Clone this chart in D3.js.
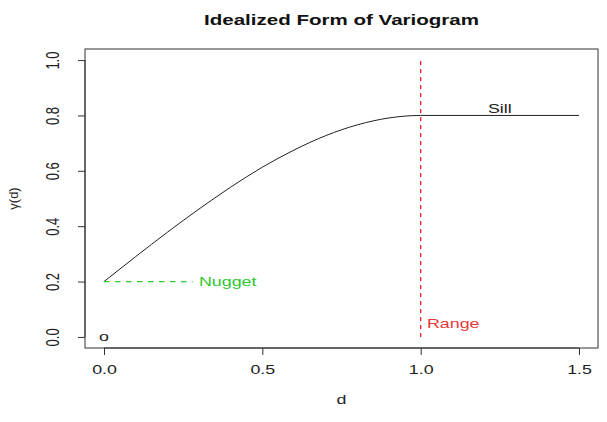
<!DOCTYPE html>
<html>
<head>
<meta charset="utf-8">
<script src="https://cdn.jsdelivr.net/npm/d3@7"></script>
<style>
  body { margin: 0; background: #fff; }
  svg { font-family: "Liberation Sans", Arial, sans-serif; }
</style>
</head>
<body>
<script>
// values
const distances = [0, 0.1, 0.2, 0.3, 0.4, 0.5, 0.6, 0.7, 0.8, 0.9, 1.0, 1.5];
const gammaValues = [0.2, 0.29, 0.378, 0.462, 0.541, 0.613, 0.675, 0.727, 0.766, 0.791, 0.8, 0.8];
const xTicks = [0, 0.5, 1.0, 1.5];
const yTicks = [0, 0.2, 0.4, 0.6, 0.8, 1.0];
const nugget = 0.2, sill = 0.8, range = 1.0;

const width = 607, height = 422;
const marginTop = 49, marginRight = 9, marginBottom = 74, marginLeft = 85;
const stretch = 1.37; // the reference text is wide

const x = d3.scaleLinear([-0.06, 1.56], [marginLeft, width - marginRight]);
const y = d3.scaleLinear([-0.04, 1.04], [height - marginBottom, marginTop]);

const svg = d3.select("body").append("svg")
    .attr("width", width)
    .attr("height", height);

// text placed at (px, py), widened horizontally
function label(px, py, str, anchor = "start") {
  return svg.append("text")
      .attr("transform", `translate(${px},${py}) scale(${stretch},1)`)
      .attr("text-anchor", anchor)
      .attr("font-size", 13)
      .text(str);
}

// plot box
svg.append("rect")
    .attr("x", marginLeft).attr("y", marginTop)
    .attr("width", width - marginLeft - marginRight)
    .attr("height", height - marginTop - marginBottom)
    .attr("fill", "none").attr("stroke", "#333");

const xAxis = d3.axisBottom(x).tickValues(xTicks).tickFormat(d3.format(".1f")).tickSize(7).tickPadding(10);
svg.append("g")
    .attr("transform", `translate(0,${height - marginBottom})`)
    .call(xAxis)
    .call(g => g.select(".domain").attr("d", `M${x(0)},0H${x(1.5)}`).attr("stroke", "#333"))
    .call(g => g.selectAll(".tick line").attr("stroke", "#333"))
    .call(g => g.selectAll("text")
        .attr("font-size", 13).attr("fill", "#222")
        .attr("font-family", "Liberation Sans, Arial, sans-serif")
        .attr("transform", `scale(${stretch},1)`));

const yAxis = d3.axisLeft(y).tickValues(yTicks).tickFormat(d3.format(".1f")).tickSize(7).tickPadding(0);
svg.append("g")
    .attr("transform", `translate(${marginLeft},0)`)
    .call(yAxis)
    .call(g => g.select(".domain").attr("d", `M0,${y(0)}V${y(1)}`).attr("stroke", "#333"))
    .call(g => g.selectAll(".tick line").attr("stroke", "#333"))
    .call(g => g.selectAll("text")
        .attr("font-size", 13).attr("fill", "#222")
        .attr("font-family", "Liberation Sans, Arial, sans-serif")
        .attr("text-anchor", "middle")
        .attr("transform", `translate(-32,0) scale(${stretch},1) rotate(-90)`)
        .attr("x", 0).attr("y", 0).attr("dy", "0.35em"));

// the variogram curve
const line = d3.line()
    .x((d, i) => x(distances[i]))
    .y(d => y(d))
    .curve(d3.curveMonotoneX);

svg.append("path")
    .datum(gammaValues)
    .attr("fill", "none")
    .attr("stroke", "#222")
    .attr("stroke-width", 1)
    .attr("d", line);

// nugget
svg.append("line")
    .attr("x1", x(0)).attr("x2", x(0.28))
    .attr("y1", y(nugget)).attr("y2", y(nugget))
    .attr("stroke", "#2ecc2e").attr("stroke-width", 1.3)
    .attr("stroke-dasharray", "5.5,5.5");
label(x(0.3), y(nugget), "Nugget")
    .attr("dy", "0.35em").attr("fill", "#2fc72f");

// range
svg.append("line")
    .attr("x1", x(range)).attr("x2", x(range))
    .attr("y1", y(0)).attr("y2", y(1.0))
    .attr("stroke", "#e8262a").attr("stroke-width", 1.3)
    .attr("stroke-dasharray", "4,4");
label(x(1.02), y(0.05), "Range")
    .attr("dy", "0.35em").attr("fill", "#e8383b");

// sill label
label(x(1.25), y(sill) - 2, "Sill", "middle").attr("fill", "#222");

// origin marker
label(x(0), y(0), "o", "middle").attr("dy", "0.3em").attr("fill", "#222");

// title and axis labels
label((marginLeft + width - marginRight) / 2, 25, "Idealized Form of Variogram", "middle")
    .attr("font-weight", "bold").attr("font-size", 15).attr("fill", "#111");

label((marginLeft + width - marginRight) / 2, 404, "d", "middle").attr("fill", "#222");

svg.append("text")
    .attr("transform", `translate(18,${(marginTop + height - marginBottom) / 2}) rotate(-90)`)
    .attr("text-anchor", "middle").attr("font-size", 13).attr("fill", "#222")
    .text("γ(d)");
</script>
</body>
</html>
